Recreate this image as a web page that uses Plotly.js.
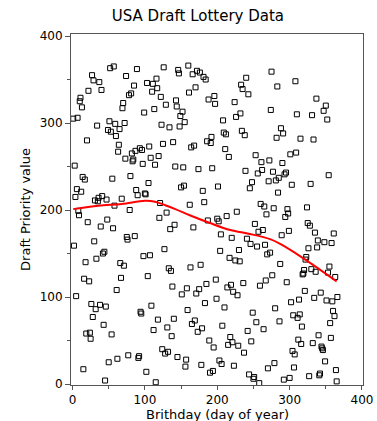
<!DOCTYPE html>
<html>
<head>
<meta charset="utf-8">
<script src="https://cdn.plot.ly/plotly-3.0.1.min.js"></script>
<style>html,body{margin:0;padding:0;background:#fff;}#chart{width:377px;height:421px;}</style>
</head>
<body>
<div id="chart"></div>
<script>
// Draft priority value for each birthday, by month (1970 lottery)
const jan = [305,159,251,215,101,224,306,199,194,325,329,221,318,238,17,121,235,140,58,280,186,337,118,59,52,92,355,77,349,164,211];
const feb = [86,144,297,210,214,347,91,181,338,216,150,68,152,4,89,212,189,292,25,302,363,290,57,236,179,365,205,299,285];
const mar = [108,29,267,275,293,139,122,213,317,323,136,300,259,354,169,166,33,332,200,239,334,265,256,258,343,170,268,223,362,217,30];
const apr = [32,271,83,81,269,253,147,312,219,218,14,346,124,231,273,148,260,90,336,345,62,316,252,2,351,340,74,262,191,208];
const may = [330,298,40,276,364,155,35,321,197,65,37,133,295,178,130,55,112,278,75,183,250,326,319,31,361,357,296,308,226,103,313];
const jun = [249,228,301,20,28,110,85,366,335,206,134,272,69,356,180,274,73,341,104,360,60,247,109,358,137,22,64,222,353,209];
const jul = [93,350,115,279,188,327,50,13,277,284,248,15,42,331,322,120,98,190,227,187,27,153,172,23,67,303,289,88,270,287,193];
const aug = [111,45,261,145,54,114,168,48,106,21,324,142,307,198,102,44,154,141,311,344,291,339,116,36,286,245,352,167,61,333,11];
const sep = [225,161,49,232,82,6,8,184,263,71,158,242,175,1,113,207,255,246,177,63,204,160,119,195,149,18,233,257,151,315];
const oct = [359,125,244,202,24,87,234,283,342,220,237,72,138,294,171,254,288,5,241,192,243,117,201,196,176,7,264,94,229,38,79];
const nov = [19,34,348,266,310,76,51,97,80,282,46,66,126,127,131,107,143,146,203,185,156,9,182,230,132,309,47,281,99,174];
const dec = [129,328,157,165,56,10,12,105,43,41,39,314,163,26,320,96,304,128,240,135,70,53,162,95,84,173,78,123,16,3,100];

// Smooth (red) curve
const smoothX = [1,36,68,100,114,128,142,162,190,218,245,273,287,319,365];
const smoothY = [201,205,207,210.5,209.5,205.5,201,194,185,177,172.5,166.5,161,144.5,118];

const xTicks = [0,100,200,300,400];
const yTicks = [0,100,200,300,400];

const priority = [].concat(jan,feb,mar,apr,may,jun,jul,aug,sep,oct,nov,dec);
const day = priority.map((_, i) => i + 1);

const font = 'DejaVu Sans, Arial, sans-serif';

const traces = [
  {
    x: day, y: priority, type: 'scatter', mode: 'markers',
    marker: {symbol: 'square-open', size: 5, color: '#000', line: {width: 1, color: '#000'}},
    hoverinfo: 'skip', showlegend: false
  },
  {
    x: smoothX, y: smoothY, type: 'scatter', mode: 'lines',
    line: {color: '#ff0000', width: 2, shape: 'spline', smoothing: 1},
    hoverinfo: 'skip', showlegend: false
  }
];

const axisCommon = {
  showgrid: false, zeroline: false, showline: true, mirror: true,
  linecolor: '#555', linewidth: 1,
  ticks: 'outside', ticklen: 5, tickwidth: 1, tickcolor: '#555',
  tickfont: {family: font, size: 12, color: '#000'},
  minor: {ticks: 'outside', ticklen: 3, tickwidth: 1, tickcolor: '#555', dtick: 50, showgrid: false}
};

const layout = {
  width: 377, height: 421,
  margin: {l: 71, r: 14, t: 34, b: 36},
  paper_bgcolor: '#fff', plot_bgcolor: '#fff',
  title: {text: 'USA Draft Lottery Data', font: {family: font, size: 15, color: '#000'},
          x: 0.525, xref: 'container', y: 0.962, yref: 'container', yanchor: 'middle'},
  xaxis: Object.assign({}, axisCommon, {
    range: [-2.1, 401.4], tickvals: xTicks, ticktext: xTicks.map(String), ticklen: 4
  }),
  yaxis: Object.assign({}, axisCommon, {
    range: [-1.15, 402.3], tickvals: yTicks, ticktext: yTicks.map(String),
    title: {text: 'Draft Priority value', font: {family: font, size: 13, color: '#000'}, standoff: 6}
  }),
  annotations: [{
    text: 'Brithday (day of year)', showarrow: false,
    xref: 'paper', yref: 'paper', x: 0.5, xanchor: 'center',
    y: -36 / 351, yanchor: 'bottom', yshift: -2, borderpad: 0,
    font: {family: font, size: 13, color: '#000'}
  }]
};

Plotly.newPlot('chart', traces, layout, {displayModeBar: false, staticPlot: true});
</script>
</body>
</html>
